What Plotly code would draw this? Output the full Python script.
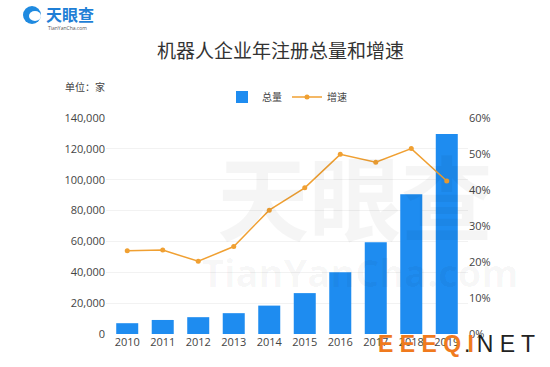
import plotly.graph_objects as go

years = ["2010", "2011", "2012", "2013", "2014", "2015", "2016", "2017", "2018", "2019"]
totals = [7000, 9100, 10900, 13500, 18400, 26500, 40000, 59500, 90500, 129600]
growth = [23.1, 23.3, 20.2, 24.3, 34.4, 40.6, 49.9, 47.7, 51.5, 42.5]

left_ticks = [0, 20000, 40000, 60000, 80000, 100000, 120000, 140000]
left_labels = ["0", "20,000", "40,000", "60,000", "80,000", "100,000", "120,000", "140,000"]
right_ticks = [0, 10, 20, 30, 40, 50, 60]
right_labels = ["0%", "10%", "20%", "30%", "40%", "50%", "60%"]

W, H = 550, 367
L, R, T, B = 106, 82, 118, 33
pw, ph = W - L - R, H - T - B

def px(x):
    return (x - L) / pw

def py(y):
    return (H - B - y) / ph

CJK = "Noto Sans CJK SC"
NUM = "Open Sans"

fig = go.Figure()
fig.add_trace(go.Bar(
    x=years, y=totals, name="总量", marker=dict(color="#1E8CF0", line=dict(width=0)),
    width=0.62, yaxis="y"))
fig.add_trace(go.Scatter(
    x=years, y=growth, name="增速", mode="lines+markers", yaxis="y2",
    line=dict(color="#F0A032", width=1.5), marker=dict(size=5, color="#F0A032")))

def ann(text, x, y, font, xanchor="center"):
    return dict(text=text, x=px(x), y=py(y), xref="paper", yref="paper", showarrow=False,
                font=font, xanchor=xanchor, yanchor="middle")

annotations = [
    # background watermark
    ann("<b>天眼查</b>", 355, 193, dict(family=CJK, size=92, color="rgba(0,0,0,0.04)")),
    ann("<b>TianYanCha.com</b>", 360, 272, dict(family=NUM, size=38, color="rgba(0,0,0,0.035)")),
    ann("机器人企业年注册总量和增速", 280, 50, dict(family=CJK, size=19, color="#333333")),
    ann("单位：家", 63, 86, dict(family=CJK, size=10, color="#444444"), "left"),
    # logo
    ann("<b>天眼查</b>", 44, 14, dict(family=CJK, size=16, color="#1F7FD6"), "left"),
    ann("TianYanCha.com", 46, 28, dict(family=NUM, size=5, color="#555555"), "left"),
    # site watermark
    ann("<b>E E E Q I</b>", 376, 344, dict(family="Liberation Sans", size=23, color="#F07A1E"), "left"),
    ann(". N E T", 462, 344, dict(family="Liberation Sans", size=23, color="#222222"), "left"),
]

shapes = [
    dict(type="circle", xref="paper", yref="paper",
         x0=px(23), x1=px(41), y0=py(24), y1=py(6),
         fillcolor="#1F8AE0", line=dict(width=0)),
    dict(type="circle", xref="paper", yref="paper",
         x0=px(29), x1=px(41), y0=py(21), y1=py(11),
         fillcolor="white", line=dict(width=0)),
]

fig.update_layout(
    width=W, height=H,
    margin=dict(l=L, r=R, t=T, b=B, autoexpand=False),
    paper_bgcolor="white", plot_bgcolor="white",
    showlegend=True,
    legend=dict(orientation="h", x=px(222), y=py(97), xanchor="left", yanchor="middle",
                font=dict(family=CJK, size=10, color="#444444"), bgcolor="rgba(0,0,0,0)",
                itemwidth=30, tracegroupgap=0),
    xaxis=dict(type="category", showgrid=False, showline=False, ticks="", tickangle=0,
               tickfont=dict(family=NUM, size=11, color="#444444"), zeroline=False),
    yaxis=dict(range=[0, 140000], tickvals=left_ticks, ticktext=left_labels,
               showgrid=True, gridcolor="#F2F2F2", gridwidth=1, zeroline=False,
               tickfont=dict(family=NUM, size=11, color="#444444"), ticks="", showline=False),
    yaxis2=dict(range=[0, 60], tickvals=right_ticks, ticktext=right_labels, overlaying="y",
                side="right", showgrid=False, zeroline=False,
                tickfont=dict(family=NUM, size=11, color="#444444"), ticks="", showline=False),
    annotations=annotations,
    shapes=shapes,
)

fig.write_html("out.html", config={"displayModeBar": False},
               post_script="document.body.style.margin='0';document.body.style.overflow='hidden';")
